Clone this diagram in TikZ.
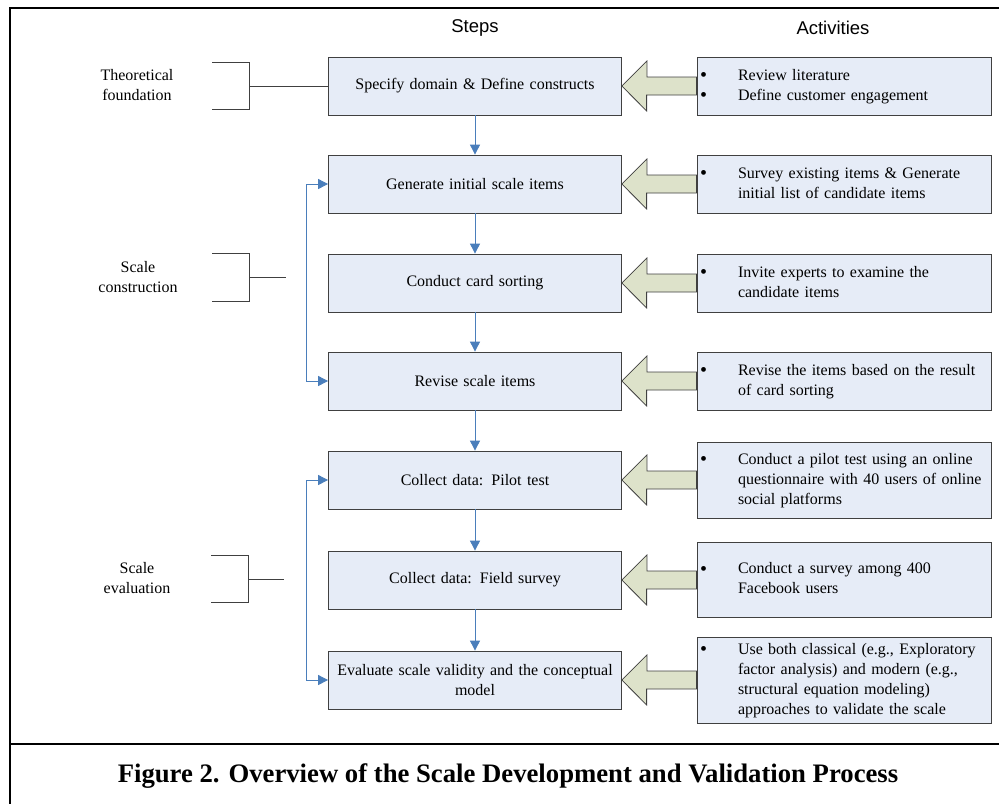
\documentclass[tikz,border=0pt]{standalone}
\usepackage{fontspec}
\setmainfont{Liberation Serif}
\setsansfont{Liberation Sans}
\usetikzlibrary{arrows.meta,calc}
\definecolor{stepfill}{HTML}{E6ECF7}
\definecolor{arrowgreen}{HTML}{DDE2CA}
\definecolor{flowblue}{HTML}{4A7EBB}
\definecolor{edgegray}{HTML}{404040}
\tikzset{
  stepbox/.style={draw=edgegray, fill=stepfill, line width=0.8pt, inner sep=0pt,
    minimum width=293pt, minimum height=58pt, text width=285pt, align=center,
    font=\fontsize{16}{20}\selectfont},
  actbox/.style={draw=edgegray, fill=stepfill, line width=0.8pt, inner sep=0pt,
    minimum width=294pt, minimum height=58pt, text width=288pt, align=left,
    font=\fontsize{16}{20}\selectfont},
  phase/.style={align=center, font=\fontsize{16}{20}\selectfont},
  head/.style={font=\sffamily\fontsize{18.5}{22}\selectfont},
  flow/.style={draw=flowblue, line width=0.9pt, -{Triangle[length=10pt,width=10pt]}},
  loop/.style={draw=flowblue, line width=0.9pt,
    {Triangle[length=10pt,width=10pt]}-{Triangle[length=10pt,width=10pt]}},
  bigarrow/.style={draw=edgegray, fill=arrowgreen, line width=0.8pt, line join=miter},
  bracket/.style={draw=edgegray, line width=0.8pt}
}
% bullet list inside an activity box
\newcommand\acts[1]{\begin{tabular}{@{}p{38pt}@{}l@{}}#1\end{tabular}}
\newcommand\bul{\raisebox{-1.8pt}{\fontsize{20}{20}\selectfont\textbullet}}
% wide arrow from an activity box to its step box
\newcommand\actarrow[2]{\draw[bigarrow] (#1.east) -- ++(25,-25) -- ++(0,16)
  -- ($(#2.west |- #1.east)+(0,-9)$) -- ($(#2.west |- #1.east)+(0,9)$)
  -- ++(-50,0) -- ++(0,16) -- cycle;}
\begin{document}
\begin{tikzpicture}[x=1pt, y=-1pt]
  \useasboundingbox (0,0) rectangle (999,804);
  % frame
  \draw[line width=2.6pt] (999,8) -- (10,8) -- (10,804);
  \draw[line width=2.6pt] (10,744) -- (999,744);

  \node[head] (HS) at (475,28) {Steps};
  \node[head] (HA) at (833,28) {Activities};

  % steps
  \node[stepbox] (S1) at (475,86) {Specify domain \& Define constructs};
  \node[stepbox] (S2) at (475,184) {Generate initial scale items};
  \node[stepbox] (S3) at (475,283) {Conduct card sorting};
  \node[stepbox] (S4) at (475,381) {Revise scale items};
  \node[stepbox] (S5) at (475,480) {Collect data: Pilot test};
  \node[stepbox] (S6) at (475,580) {Collect data: Field survey};
  \node[stepbox] (S7) at (475,680) {Evaluate scale validity and the conceptual\\model};

  % activities
  \node[actbox] (A1) at (844,86) {\acts{\bul & Review literature\\ \bul & Define customer engagement}};
  \node[actbox] (A2) at (844,184) {\acts{\bul & Survey existing items \& Generate\\ & initial list of candidate items}};
  \node[actbox] (A3) at (844,283) {\acts{\bul & Invite experts to examine the\\ & candidate items}};
  \node[actbox] (A4) at (844,381) {\acts{\bul & Revise the items based on the result\\ & of card sorting}};
  \node[actbox, minimum height=76pt] (A5) at (844,480) {\acts{\bul & Conduct a pilot test using an online\\ & questionnaire with 40 users of online\\ & social platforms}};
  \node[actbox, minimum height=75pt] (A6) at (844,579.5) {\acts{\bul & Conduct a survey among 400\\ & Facebook users}};
  \node[actbox, minimum height=86pt] (A7) at (844,680) {\acts{\bul & Use both classical (e.g., Exploratory\\ & factor analysis) and modern (e.g.,\\ & structural equation modeling)\\ & approaches to validate the scale}};

  \actarrow{S1}{A1}
  \actarrow{S2}{A2}
  \actarrow{S3}{A3}
  \actarrow{S4}{A4}
  \actarrow{S5}{A5}
  \actarrow{S6}{A6}
  \actarrow{S7}{A7}

  % flow between steps
  \draw[flow] (S1) -- (S2);
  \draw[flow] (S2) -- (S3);
  \draw[flow] (S3) -- (S4);
  \draw[flow] (S4) -- (S5);
  \draw[flow] (S5) -- (S6);
  \draw[flow] (S6) -- (S7);
  \draw[loop] (S2.west) -- ++(-22,0) |- (S4.west);
  \draw[loop] (S5.west) -- ++(-22,0) |- (S7.west);

  % phases
  \node[phase] (P1) at (137,85) {Theoretical\\foundation};
  \node[phase] (P2) at (138,277) {Scale\\construction};
  \node[phase] (P3) at (137,578) {Scale\\evaluation};
  \coordinate (B1) at (249,86);
  \coordinate (B2) at (249,277);
  \coordinate (B3) at (248,579);
  \draw[bracket] (212,62) -- (249,62) -- (249,109) -- (212,109);
  \draw[bracket] (B1) -- (S1.west);
  \draw[bracket] (212,253) -- (249,253) -- (249,301) -- (212,301);
  \draw[bracket] (B2) -- ++(37,0);
  \draw[bracket] (211,555) -- (248,555) -- (248,602) -- (211,602);
  \draw[bracket] (B3) -- ++(36,0);

  \node[font=\bfseries\fontsize{26.7}{30}\selectfont] (CAP) at (508,776)
    {Figure 2. Overview of the Scale Development and Validation Process};
\end{tikzpicture}
\end{document}
